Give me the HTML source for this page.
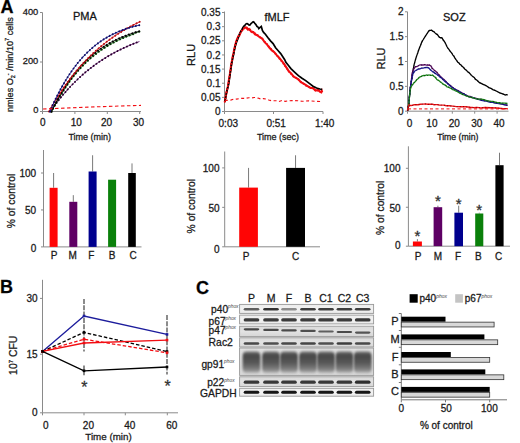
<!DOCTYPE html>
<html><head><meta charset="utf-8"><style>
html,body{margin:0;padding:0;background:#fff;}
svg{display:block;font-family:"Liberation Sans", sans-serif;}
text{stroke:#1a1a1a;stroke-width:0.28px;}
</style></head><body>
<svg width="520" height="443" viewBox="0 0 520 443">
<rect width="520" height="443" fill="#fff"/>
<text x="0.6" y="12.8" font-size="18" text-anchor="start" font-weight="bold" fill="#000" >A</text>
<text x="0" y="293.2" font-size="18" text-anchor="start" font-weight="bold" fill="#000" >B</text>
<text x="196" y="293.5" font-size="18" text-anchor="start" font-weight="bold" fill="#000" >C</text>
<line x1="42.5" y1="12.5" x2="42.5" y2="111.5" stroke="#8a8a8a" stroke-width="1" />
<line x1="42.5" y1="111.5" x2="141" y2="111.5" stroke="#8a8a8a" stroke-width="1" />
<line x1="40.0" y1="12.5" x2="42.5" y2="12.5" stroke="#8a8a8a" stroke-width="1" />
<line x1="40.0" y1="62" x2="42.5" y2="62" stroke="#8a8a8a" stroke-width="1" />
<line x1="40.0" y1="111.5" x2="42.5" y2="111.5" stroke="#8a8a8a" stroke-width="1" />
<line x1="42.5" y1="111.5" x2="42.5" y2="114.0" stroke="#8a8a8a" stroke-width="1" />
<line x1="74.9" y1="111.5" x2="74.9" y2="114.0" stroke="#8a8a8a" stroke-width="1" />
<line x1="107.3" y1="111.5" x2="107.3" y2="114.0" stroke="#8a8a8a" stroke-width="1" />
<line x1="139.7" y1="111.5" x2="139.7" y2="114.0" stroke="#8a8a8a" stroke-width="1" />
<text x="38.3" y="14.8" font-size="9.3" text-anchor="end" font-weight="normal" fill="#1a1a1a" >400</text>
<text x="38.3" y="64.3" font-size="9.3" text-anchor="end" font-weight="normal" fill="#1a1a1a" >200</text>
<text x="38.3" y="113.4" font-size="9.3" text-anchor="end" font-weight="normal" fill="#1a1a1a" >0</text>
<text x="42.7" y="126.2" font-size="10" text-anchor="middle" font-weight="normal" fill="#1a1a1a" >0</text>
<text x="76.2" y="126.2" font-size="10" text-anchor="middle" font-weight="normal" fill="#1a1a1a" >10</text>
<text x="106.5" y="126.2" font-size="10" text-anchor="middle" font-weight="normal" fill="#1a1a1a" >20</text>
<text x="138.5" y="126.2" font-size="10" text-anchor="middle" font-weight="normal" fill="#1a1a1a" >30</text>
<text x="89.8" y="140.2" font-size="9" text-anchor="middle" font-weight="normal" fill="#1a1a1a" >Time (min)</text>
<text x="84.8" y="20.3" font-size="11" text-anchor="middle" font-weight="normal" fill="#111" >PMA</text>
<text transform="translate(13.2,64.6) rotate(-90)" font-size="9.1" text-anchor="middle" fill="#1a1a1a">nmles O<tspan font-size="5.5" dy="2">2</tspan><tspan font-size="5.5" dy="-5">-</tspan><tspan dy="3"> /min/10</tspan><tspan font-size="5.5" dy="-4">7</tspan><tspan dy="4"> cells</tspan></text>
<polyline points="50.4,111.5 51.4,110.1 52.4,108.6 53.4,107.3 54.4,105.9 55.4,104.5 56.4,103.2 57.4,101.9 58.4,100.6 59.4,99.3 60.4,98.1 61.4,96.8 62.4,95.6 63.4,94.4 64.4,93.3 65.4,92.1 66.4,91.0 67.4,89.8 68.4,88.7 69.4,87.6 70.4,86.6 71.4,85.5 72.4,84.5 73.4,83.5 74.4,82.5 75.4,81.5 76.4,80.5 77.4,79.5 78.4,78.6 79.4,77.6 80.4,76.7 81.4,75.8 82.4,74.9 83.4,74.1 84.4,73.2 85.4,72.3 86.4,71.5 87.4,70.7 88.4,69.9 89.4,69.1 90.4,68.3 91.4,67.5 92.4,66.8 93.4,66.0 94.4,65.3 95.4,64.5 96.4,63.8 97.4,63.1 98.4,62.4 99.4,61.7 100.4,61.1 101.4,60.4 102.4,59.8 103.4,59.1 104.4,58.5 105.4,57.9 106.4,57.2 107.4,56.6 108.4,56.0 109.4,55.5 110.4,54.9 111.4,54.3 112.4,53.8 113.4,53.2 114.4,52.7 115.4,52.1 116.4,51.6 117.4,51.1 118.4,50.6 119.4,50.1 120.4,49.6 121.4,49.1 122.4,48.6 123.4,48.1 124.4,47.7 125.4,47.2 126.4,46.8 127.4,46.3 128.4,45.9 129.4,45.5 130.4,45.0 131.4,44.6 132.4,44.2 133.4,43.8 134.4,43.4 135.4,43.0 136.4,42.6 137.4,42.3 138.4,41.9 139.4,41.5" fill="none" stroke="#5c0a66" stroke-width="1.0"/>
<polyline points="50.4,111.5 51.4,110.1 52.4,108.6 53.4,107.3 54.4,105.9 55.4,104.5 56.4,103.2 57.4,101.9 58.4,100.6 59.4,99.3 60.4,98.1 61.4,96.8 62.4,95.6 63.4,94.4 64.4,93.3 65.4,92.1 66.4,91.0 67.4,89.8 68.4,88.7 69.4,87.6 70.4,86.6 71.4,85.5 72.4,84.5 73.4,83.5 74.4,82.5 75.4,81.5 76.4,80.5 77.4,79.5 78.4,78.6 79.4,77.6 80.4,76.7 81.4,75.8 82.4,74.9 83.4,74.1 84.4,73.2 85.4,72.3 86.4,71.5 87.4,70.7 88.4,69.9 89.4,69.1 90.4,68.3 91.4,67.5 92.4,66.8 93.4,66.0 94.4,65.3 95.4,64.5 96.4,63.8 97.4,63.1 98.4,62.4 99.4,61.7 100.4,61.1 101.4,60.4 102.4,59.8 103.4,59.1 104.4,58.5 105.4,57.9 106.4,57.2 107.4,56.6 108.4,56.0 109.4,55.5 110.4,54.9 111.4,54.3 112.4,53.8 113.4,53.2 114.4,52.7 115.4,52.1 116.4,51.6 117.4,51.1 118.4,50.6 119.4,50.1 120.4,49.6 121.4,49.1 122.4,48.6 123.4,48.1 124.4,47.7 125.4,47.2 126.4,46.8 127.4,46.3 128.4,45.9 129.4,45.5 130.4,45.0 131.4,44.6 132.4,44.2 133.4,43.8 134.4,43.4 135.4,43.0 136.4,42.6 137.4,42.3 138.4,41.9 139.4,41.5" fill="none" stroke="#2a0030" stroke-width="2.0" stroke-linecap="round" stroke-dasharray="0.01 3.5"/>
<polyline points="51.5,111.8 52.5,109.8 53.5,107.8 54.5,105.8 55.5,103.9 56.5,102.0 57.5,100.2 58.5,98.4 59.5,96.7 60.5,95.6 61.5,93.9 62.5,92.3 63.5,90.7 64.5,89.1 65.5,87.6 66.5,86.1 67.5,84.6 68.5,83.2 69.5,81.8 70.5,80.4 71.5,79.0 72.5,77.7 73.5,76.4 74.5,75.2 75.5,74.0 76.5,72.7 77.5,71.6 78.5,70.4 79.5,69.3 80.5,68.2 81.5,67.1 82.5,66.1 83.5,65.0 84.5,64.0 85.5,63.0 86.5,62.1 87.5,61.1 88.5,60.2 89.5,59.3 90.5,58.4 91.5,57.5 92.5,56.7 93.5,55.9 94.5,55.1 95.5,54.3 96.5,53.5 97.5,52.7 98.5,52.0 99.5,51.3 100.5,50.6 101.5,49.9 102.5,49.2 103.5,48.5 104.5,47.9 105.5,47.2 106.5,46.6 107.5,46.0 108.5,45.4 109.5,44.8 110.5,44.2 111.5,43.7 112.5,43.1 113.5,42.6 114.5,42.1 115.5,41.6 116.5,41.1 117.5,40.6 118.5,40.1 119.5,39.6 120.5,39.2 121.5,38.7 122.5,38.3 123.5,37.9 124.5,37.5 125.5,37.0 126.5,36.6 127.5,36.3 128.5,35.9 129.5,35.5 130.5,35.1 131.5,34.8 132.5,34.4 133.5,34.1 134.5,33.7 135.5,32.8 136.5,32.5 137.5,32.2 138.5,31.9 139.5,31.6" fill="none" stroke="#1a8a1a" stroke-width="1.0"/>
<polyline points="51.5,111.8 52.5,109.8 53.5,107.8 54.5,105.8 55.5,103.9 56.5,102.0 57.5,100.2 58.5,98.4 59.5,96.7 60.5,95.6 61.5,93.9 62.5,92.3 63.5,90.7 64.5,89.1 65.5,87.6 66.5,86.1 67.5,84.6 68.5,83.2 69.5,81.8 70.5,80.4 71.5,79.0 72.5,77.7 73.5,76.4 74.5,75.2 75.5,74.0 76.5,72.7 77.5,71.6 78.5,70.4 79.5,69.3 80.5,68.2 81.5,67.1 82.5,66.1 83.5,65.0 84.5,64.0 85.5,63.0 86.5,62.1 87.5,61.1 88.5,60.2 89.5,59.3 90.5,58.4 91.5,57.5 92.5,56.7 93.5,55.9 94.5,55.1 95.5,54.3 96.5,53.5 97.5,52.7 98.5,52.0 99.5,51.3 100.5,50.6 101.5,49.9 102.5,49.2 103.5,48.5 104.5,47.9 105.5,47.2 106.5,46.6 107.5,46.0 108.5,45.4 109.5,44.8 110.5,44.2 111.5,43.7 112.5,43.1 113.5,42.6 114.5,42.1 115.5,41.6 116.5,41.1 117.5,40.6 118.5,40.1 119.5,39.6 120.5,39.2 121.5,38.7 122.5,38.3 123.5,37.9 124.5,37.5 125.5,37.0 126.5,36.6 127.5,36.3 128.5,35.9 129.5,35.5 130.5,35.1 131.5,34.8 132.5,34.4 133.5,34.1 134.5,33.7 135.5,32.8 136.5,32.5 137.5,32.2 138.5,31.9 139.5,31.6" fill="none" stroke="#0a300a" stroke-width="2.0" stroke-linecap="round" stroke-dasharray="0.01 3.5"/>
<polyline points="51.5,111.5 52.5,109.4 53.5,107.4 54.5,105.4 55.5,103.5 56.5,101.6 57.5,99.7 58.5,97.9 59.5,96.1 60.5,94.4 61.5,92.7 62.5,91.0 63.5,89.4 64.5,87.8 65.5,86.3 66.5,84.7 67.5,83.3 68.5,81.8 69.5,80.4 70.5,79.0 71.5,77.6 72.5,76.3 73.5,75.0 74.5,73.7 75.5,72.5 76.5,71.2 77.5,70.0 78.5,68.9 79.5,67.7 80.5,66.6 81.5,65.5 82.5,64.4 83.5,63.4 84.5,62.4 85.5,61.4 86.5,60.4 87.5,59.5 88.5,58.5 89.5,57.6 90.5,56.7 91.5,55.9 92.5,55.0 93.5,54.2 94.5,53.4 95.5,52.6 96.5,51.8 97.5,51.0 98.5,50.3 99.5,49.6 100.5,48.9 101.5,48.2 102.5,47.5 103.5,46.8 104.5,46.2 105.5,45.6 106.5,45.0 107.5,44.4 108.5,43.8 109.5,43.2 110.5,42.6 111.5,42.1 112.5,41.6 113.5,41.1 114.5,40.5 115.5,40.1 116.5,39.6 117.5,39.1 118.5,38.6 119.5,38.2 120.5,37.8 121.5,37.3 122.5,36.9 123.5,36.5 124.5,36.1 125.5,35.7 126.5,35.4 127.5,35.0 128.5,34.6 129.5,34.3 130.5,33.9 131.5,33.6 132.5,33.3 133.5,33.0 134.5,32.7 135.5,32.3 136.5,32.1 137.5,31.8 138.5,31.5 139.5,31.2" fill="none" stroke="#000" stroke-width="1.0"/>
<polyline points="51.5,111.5 52.5,109.4 53.5,107.4 54.5,105.4 55.5,103.5 56.5,101.6 57.5,99.7 58.5,97.9 59.5,96.1 60.5,94.4 61.5,92.7 62.5,91.0 63.5,89.4 64.5,87.8 65.5,86.3 66.5,84.7 67.5,83.3 68.5,81.8 69.5,80.4 70.5,79.0 71.5,77.6 72.5,76.3 73.5,75.0 74.5,73.7 75.5,72.5 76.5,71.2 77.5,70.0 78.5,68.9 79.5,67.7 80.5,66.6 81.5,65.5 82.5,64.4 83.5,63.4 84.5,62.4 85.5,61.4 86.5,60.4 87.5,59.5 88.5,58.5 89.5,57.6 90.5,56.7 91.5,55.9 92.5,55.0 93.5,54.2 94.5,53.4 95.5,52.6 96.5,51.8 97.5,51.0 98.5,50.3 99.5,49.6 100.5,48.9 101.5,48.2 102.5,47.5 103.5,46.8 104.5,46.2 105.5,45.6 106.5,45.0 107.5,44.4 108.5,43.8 109.5,43.2 110.5,42.6 111.5,42.1 112.5,41.6 113.5,41.1 114.5,40.5 115.5,40.1 116.5,39.6 117.5,39.1 118.5,38.6 119.5,38.2 120.5,37.8 121.5,37.3 122.5,36.9 123.5,36.5 124.5,36.1 125.5,35.7 126.5,35.4 127.5,35.0 128.5,34.6 129.5,34.3 130.5,33.9 131.5,33.6 132.5,33.3 133.5,33.0 134.5,32.7 135.5,32.3 136.5,32.1 137.5,31.8 138.5,31.5 139.5,31.2" fill="none" stroke="#000" stroke-width="2.0" stroke-linecap="round" stroke-dasharray="0.01 3.5"/>
<polyline points="48.9,111.5 49.9,109.7 50.9,108.0 51.9,106.2 52.9,104.5 53.9,102.9 54.9,101.2 55.9,99.6 56.9,98.0 57.9,96.4 58.9,94.8 59.9,93.3 60.9,91.8 61.9,90.3 62.9,88.8 63.9,87.4 64.9,86.0 65.9,84.5 66.9,83.2 67.9,81.8 68.9,80.5 69.9,79.1 70.9,77.8 71.9,76.5 72.9,75.3 73.9,74.0 74.9,72.8 75.9,71.6 76.9,70.4 77.9,69.2 78.9,68.0 79.9,66.9 80.9,65.8 81.9,64.7 82.9,63.6 83.9,62.5 84.9,61.4 85.9,60.4 86.9,59.4 87.9,58.3 88.9,57.3 89.9,56.4 90.9,55.4 91.9,54.4 92.9,53.5 93.9,52.6 94.9,51.6 95.9,50.7 96.9,49.8 97.9,49.0 98.9,48.1 99.9,47.3 100.9,46.4 101.9,45.6 102.9,44.8 103.9,44.0 104.9,43.2 105.9,42.4 106.9,41.6 107.9,40.9 108.9,40.1 109.9,39.4 110.9,38.7 111.9,38.0 112.9,37.3 113.9,36.6 114.9,35.9 115.9,35.2 116.9,34.6 117.9,33.9 118.9,33.3 119.9,32.6 120.9,32.0 121.9,31.4 122.9,30.8 123.9,30.2 124.9,29.6 125.9,29.0 126.9,28.4 127.9,27.9 128.9,27.3 129.9,26.8 130.9,26.2 131.9,25.7 132.9,25.2 133.9,24.7 134.9,24.2 135.9,23.7 136.9,23.2 137.9,22.7 138.9,22.2 139.9,21.7" fill="none" stroke="#f20d12" stroke-width="1.0"/>
<polyline points="48.9,111.5 49.9,109.7 50.9,108.0 51.9,106.2 52.9,104.5 53.9,102.9 54.9,101.2 55.9,99.6 56.9,98.0 57.9,96.4 58.9,94.8 59.9,93.3 60.9,91.8 61.9,90.3 62.9,88.8 63.9,87.4 64.9,86.0 65.9,84.5 66.9,83.2 67.9,81.8 68.9,80.5 69.9,79.1 70.9,77.8 71.9,76.5 72.9,75.3 73.9,74.0 74.9,72.8 75.9,71.6 76.9,70.4 77.9,69.2 78.9,68.0 79.9,66.9 80.9,65.8 81.9,64.7 82.9,63.6 83.9,62.5 84.9,61.4 85.9,60.4 86.9,59.4 87.9,58.3 88.9,57.3 89.9,56.4 90.9,55.4 91.9,54.4 92.9,53.5 93.9,52.6 94.9,51.6 95.9,50.7 96.9,49.8 97.9,49.0 98.9,48.1 99.9,47.3 100.9,46.4 101.9,45.6 102.9,44.8 103.9,44.0 104.9,43.2 105.9,42.4 106.9,41.6 107.9,40.9 108.9,40.1 109.9,39.4 110.9,38.7 111.9,38.0 112.9,37.3 113.9,36.6 114.9,35.9 115.9,35.2 116.9,34.6 117.9,33.9 118.9,33.3 119.9,32.6 120.9,32.0 121.9,31.4 122.9,30.8 123.9,30.2 124.9,29.6 125.9,29.0 126.9,28.4 127.9,27.9 128.9,27.3 129.9,26.8 130.9,26.2 131.9,25.7 132.9,25.2 133.9,24.7 134.9,24.2 135.9,23.7 136.9,23.2 137.9,22.7 138.9,22.2 139.9,21.7" fill="none" stroke="#b01018" stroke-width="2.0" stroke-linecap="round" stroke-dasharray="0.01 3.5"/>
<polyline points="49.9,111.5 50.9,109.2 51.9,106.9 52.9,104.7 53.9,102.5 54.9,100.4 55.9,98.3 56.9,96.3 57.9,94.3 58.9,92.4 59.9,90.5 60.9,88.6 61.9,86.8 62.9,85.0 63.9,83.3 64.9,81.6 65.9,79.9 66.9,78.3 67.9,76.8 68.9,75.2 69.9,73.7 70.9,72.2 71.9,70.8 72.9,69.4 73.9,68.0 74.9,66.7 75.9,65.4 76.9,64.1 77.9,62.8 78.9,61.6 79.9,60.4 80.9,59.3 81.9,58.1 82.9,57.0 83.9,56.0 84.9,54.9 85.9,53.9 86.9,52.9 87.9,51.9 88.9,50.9 89.9,50.0 90.9,49.1 91.9,48.2 92.9,47.4 93.9,46.5 94.9,45.7 95.9,44.9 96.9,44.1 97.9,43.4 98.9,42.6 99.9,41.9 100.9,41.2 101.9,40.5 102.9,39.9 103.9,39.2 104.9,38.6 105.9,38.0 106.9,37.4 107.9,36.8 108.9,36.3 109.9,35.7 110.9,35.2 111.9,34.7 112.9,34.2 113.9,33.7 114.9,33.2 115.9,32.8 116.9,32.3 117.9,31.9 118.9,31.5 119.9,31.1 120.9,30.7 121.9,30.3 122.9,29.9 123.9,29.5 124.9,29.2 125.9,28.8 126.9,28.5 127.9,28.2 128.9,27.9 129.9,27.6 130.9,27.3 131.9,27.0 132.9,26.7 133.9,26.5 134.9,26.2 135.9,26.0 136.9,25.7 137.9,25.5 138.9,25.3 139.9,25.1" fill="none" stroke="#1c1c9c" stroke-width="1.0"/>
<polyline points="49.9,111.5 50.9,109.2 51.9,106.9 52.9,104.7 53.9,102.5 54.9,100.4 55.9,98.3 56.9,96.3 57.9,94.3 58.9,92.4 59.9,90.5 60.9,88.6 61.9,86.8 62.9,85.0 63.9,83.3 64.9,81.6 65.9,79.9 66.9,78.3 67.9,76.8 68.9,75.2 69.9,73.7 70.9,72.2 71.9,70.8 72.9,69.4 73.9,68.0 74.9,66.7 75.9,65.4 76.9,64.1 77.9,62.8 78.9,61.6 79.9,60.4 80.9,59.3 81.9,58.1 82.9,57.0 83.9,56.0 84.9,54.9 85.9,53.9 86.9,52.9 87.9,51.9 88.9,50.9 89.9,50.0 90.9,49.1 91.9,48.2 92.9,47.4 93.9,46.5 94.9,45.7 95.9,44.9 96.9,44.1 97.9,43.4 98.9,42.6 99.9,41.9 100.9,41.2 101.9,40.5 102.9,39.9 103.9,39.2 104.9,38.6 105.9,38.0 106.9,37.4 107.9,36.8 108.9,36.3 109.9,35.7 110.9,35.2 111.9,34.7 112.9,34.2 113.9,33.7 114.9,33.2 115.9,32.8 116.9,32.3 117.9,31.9 118.9,31.5 119.9,31.1 120.9,30.7 121.9,30.3 122.9,29.9 123.9,29.5 124.9,29.2 125.9,28.8 126.9,28.5 127.9,28.2 128.9,27.9 129.9,27.6 130.9,27.3 131.9,27.0 132.9,26.7 133.9,26.5 134.9,26.2 135.9,26.0 136.9,25.7 137.9,25.5 138.9,25.3 139.9,25.1" fill="none" stroke="#101060" stroke-width="2.0" stroke-linecap="round" stroke-dasharray="0.01 3.5"/>
<polyline points="43,109 70,107.9 100,106.7 120,106 141,105.4" fill="none" stroke="#f20d12" stroke-width="1.1" stroke-dasharray="3.5 2.5"/>
<line x1="224.5" y1="11.5" x2="224.5" y2="111.5" stroke="#8a8a8a" stroke-width="1" />
<line x1="224.5" y1="111.5" x2="323" y2="111.5" stroke="#8a8a8a" stroke-width="1" />
<line x1="222.0" y1="111.5" x2="224.5" y2="111.5" stroke="#8a8a8a" stroke-width="1" />
<text x="220.5" y="115.1" font-size="10" text-anchor="end" font-weight="normal" fill="#1a1a1a" >0</text>
<line x1="222.0" y1="97.36" x2="224.5" y2="97.36" stroke="#8a8a8a" stroke-width="1" />
<text x="220.5" y="100.96" font-size="10" text-anchor="end" font-weight="normal" fill="#1a1a1a" >0.05</text>
<line x1="222.0" y1="83.22" x2="224.5" y2="83.22" stroke="#8a8a8a" stroke-width="1" />
<text x="220.5" y="86.82" font-size="10" text-anchor="end" font-weight="normal" fill="#1a1a1a" >0.1</text>
<line x1="222.0" y1="69.08" x2="224.5" y2="69.08" stroke="#8a8a8a" stroke-width="1" />
<text x="220.5" y="72.67999999999999" font-size="10" text-anchor="end" font-weight="normal" fill="#1a1a1a" >0.15</text>
<line x1="222.0" y1="54.94" x2="224.5" y2="54.94" stroke="#8a8a8a" stroke-width="1" />
<text x="220.5" y="58.54" font-size="10" text-anchor="end" font-weight="normal" fill="#1a1a1a" >0.2</text>
<line x1="222.0" y1="40.8" x2="224.5" y2="40.8" stroke="#8a8a8a" stroke-width="1" />
<text x="220.5" y="44.4" font-size="10" text-anchor="end" font-weight="normal" fill="#1a1a1a" >0.25</text>
<line x1="222.0" y1="26.659999999999997" x2="224.5" y2="26.659999999999997" stroke="#8a8a8a" stroke-width="1" />
<text x="220.5" y="30.259999999999998" font-size="10" text-anchor="end" font-weight="normal" fill="#1a1a1a" >0.3</text>
<line x1="222.0" y1="12.519999999999996" x2="224.5" y2="12.519999999999996" stroke="#8a8a8a" stroke-width="1" />
<text x="220.5" y="16.119999999999997" font-size="10" text-anchor="end" font-weight="normal" fill="#1a1a1a" >0.35</text>
<line x1="224.5" y1="111.5" x2="224.5" y2="114.0" stroke="#8a8a8a" stroke-width="1" />
<line x1="273.5" y1="111.5" x2="273.5" y2="114.0" stroke="#8a8a8a" stroke-width="1" />
<line x1="323" y1="111.5" x2="323" y2="114.0" stroke="#8a8a8a" stroke-width="1" />
<text x="228.3" y="126.5" font-size="10" text-anchor="middle" font-weight="normal" fill="#1a1a1a" >0:03</text>
<text x="276.2" y="126.5" font-size="10" text-anchor="middle" font-weight="normal" fill="#1a1a1a" >0:51</text>
<text x="324.7" y="126.5" font-size="10" text-anchor="middle" font-weight="normal" fill="#1a1a1a" >1:40</text>
<text x="278" y="140.1" font-size="9" text-anchor="middle" font-weight="normal" fill="#1a1a1a" >Time (sec)</text>
<text x="277" y="21" font-size="11" text-anchor="middle" font-weight="normal" fill="#111" >fMLF</text>
<text x="0" y="0" font-size="11" text-anchor="middle" font-weight="normal" fill="#1a1a1a" transform="translate(194.6,54.9) rotate(-90)">RLU</text>
<polyline points="224.8,101.9 225.2,99.6 225.8,96.1 226.5,92.7 227.2,89.4 227.9,86.7 228.7,81.2 229.6,75.9 230.6,69.7 231.5,63.2 232.2,59.8 232.9,55.7 233.5,53.5 234.1,50.0 234.7,47.5 235.4,44.6 236.3,41.0 237.3,38.7 238.3,36.4 239.3,35.5 240.2,33.5 241.2,31.0 242.2,30.5 243.3,28.2 244.4,28.2 245.6,27.4 246.8,27.6 248.0,29.6 249.0,29.0 249.9,29.6 251.0,31.6 252.1,32.2 253.4,32.1 255.0,34.3 257.2,35.2 259.7,37.2 262.2,38.5 264.6,42.2 267.1,44.6 269.5,47.8 271.9,50.4 274.3,52.2 276.7,55.1 279.1,57.7 281.5,60.6 283.9,63.6 286.3,67.4 288.8,71.4 291.2,73.4 293.6,76.6 296.0,77.8 298.4,79.4 300.8,82.1 303.2,83.4 305.6,84.8 308.0,86.4 310.5,88.0 312.9,88.0 315.5,90.5 318.1,89.9 320.1,91.8 321.3,92.3 321.8,91.0 322.2,92.3" fill="none" stroke="#f20d12" stroke-width="2.1"/>
<polyline points="224.8,102.2 225.5,98.4 226.5,92.6 227.5,88.5 228.7,83.8 230.1,74.1 231.5,64.4 232.6,58.6 233.5,54.7 234.4,50.0 235.4,45.6 236.9,41.1 238.3,37.7 239.2,34.8 240.0,32.8 241.0,31.1 242.0,29.4 243.0,27.5 244.0,26.1 244.8,25.3 245.5,24.5 246.3,23.7 247.1,23.6 248.1,24.2 249.1,25.1 250.0,24.9 251.0,23.5 252.1,22.7 253.2,21.8 254.0,22.1 254.7,23.3 255.5,24.0 256.3,25.2 256.9,26.3 257.5,26.7 258.1,27.2 258.8,28.6 260.1,27.4 261.3,26.4 261.8,28.2 262.4,30.5 263.6,32.4 265.4,34.2 267.8,37.6 270.5,40.9 273.1,43.6 275.6,47.8 278.2,50.8 280.7,53.6 282.8,56.8 284.7,59.7 285.9,62.3 287.5,64.3 290.9,68.6 294.8,72.3 298.4,75.7 302.0,78.3 305.7,80.6 309.3,83.4 313.0,86.2 316.5,88.0 319.8,89.0 322.2,89.3" fill="none" stroke="#000" stroke-width="1.7" stroke-linejoin="miter"/>
<polyline points="224.8,101.8 225.1,100.1 225.5,97.7 226.0,94.9 226.5,92.1 227.0,90.0 227.5,87.3 228.1,85.1 228.7,82.3 229.4,77.7 230.1,72.7 230.8,67.1 231.5,63.0 232.1,59.8 232.6,57.7 233.0,55.7 233.5,53.2 234.0,51.0 234.4,48.8 234.9,46.9 235.4,44.7 236.1,42.2 236.8,40.6 237.6,38.3 238.3,36.9 239.0,35.0 239.7,33.6 240.5,32.9 241.2,31.3 242.0,30.2 242.8,29.6 243.6,28.7 244.4,27.9 245.3,28.2 246.2,28.2 247.1,28.7 248.0,28.8 248.8,29.6 249.5,29.9 250.2,30.5 251.0,31.0 251.9,31.2 252.7,31.9 253.8,32.5 255.0,33.4 256.6,34.4 258.4,35.8 260.3,37.5 262.2,38.7 264.0,40.9 265.9,42.8 267.7,44.9 269.5,47.3 271.3,49.1 273.1,51.0 274.9,53.2 276.7,55.4 278.5,57.2 280.3,60.0 282.1,61.7 283.9,64.4 285.7,67.0 287.6,69.2 289.4,72.2 291.2,74.1 293.0,75.9 294.8,76.9 296.6,78.2 298.4,79.5 300.2,81.4 302.0,82.3 303.8,84.0 305.6,85.4 307.4,86.4 309.2,87.0 311.1,87.8 312.9,88.7 314.8,89.7 316.8,90.0 318.7,91.1 320.1,91.6 321.0,91.9 321.6,91.5 321.9,92.0 322.2,91.6" fill="none" stroke="#f20d12" stroke-width="1.9" stroke-linecap="round" stroke-dasharray="0.01 3.2"/>
<polyline points="225.0,100.8 227.4,100.2 230.7,100.1 234.0,99.0 236.7,99.1 239.2,98.7 242.0,98.2 245.3,98.4 248.9,97.7 252.0,97.9 254.2,97.5 256.0,97.6 258.0,98.1 260.5,98.9 263.3,98.6 266.0,99.1 268.7,100.0 271.3,100.7 274.0,100.7 276.6,100.7 279.2,101.4 282.0,100.5 285.2,101.4 288.6,100.8 292.0,100.6 295.0,100.6 297.9,100.8 302.0,101.3 308.7,100.8 316.4,101.4 322.0,101.5" fill="none" stroke="#f20d12" stroke-width="1.1" stroke-dasharray="3 2.5"/>
<line x1="407.5" y1="11.8" x2="407.5" y2="111.2" stroke="#8a8a8a" stroke-width="1" />
<line x1="407.5" y1="111.2" x2="508.5" y2="111.2" stroke="#8a8a8a" stroke-width="1" />
<line x1="405.0" y1="111.2" x2="407.5" y2="111.2" stroke="#8a8a8a" stroke-width="1" />
<text x="403.5" y="114.8" font-size="10" text-anchor="end" font-weight="normal" fill="#1a1a1a" >0</text>
<line x1="405.0" y1="86.35" x2="407.5" y2="86.35" stroke="#8a8a8a" stroke-width="1" />
<text x="403.5" y="89.94999999999999" font-size="10" text-anchor="end" font-weight="normal" fill="#1a1a1a" >0.5</text>
<line x1="405.0" y1="61.5" x2="407.5" y2="61.5" stroke="#8a8a8a" stroke-width="1" />
<text x="403.5" y="65.1" font-size="10" text-anchor="end" font-weight="normal" fill="#1a1a1a" >1</text>
<line x1="405.0" y1="36.64999999999999" x2="407.5" y2="36.64999999999999" stroke="#8a8a8a" stroke-width="1" />
<text x="403.5" y="40.24999999999999" font-size="10" text-anchor="end" font-weight="normal" fill="#1a1a1a" >1.5</text>
<line x1="405.0" y1="11.799999999999997" x2="407.5" y2="11.799999999999997" stroke="#8a8a8a" stroke-width="1" />
<text x="403.5" y="15.399999999999997" font-size="10" text-anchor="end" font-weight="normal" fill="#1a1a1a" >2</text>
<line x1="407.5" y1="111.2" x2="407.5" y2="113.7" stroke="#8a8a8a" stroke-width="1" />
<line x1="429.9" y1="111.2" x2="429.9" y2="113.7" stroke="#8a8a8a" stroke-width="1" />
<line x1="452.3" y1="111.2" x2="452.3" y2="113.7" stroke="#8a8a8a" stroke-width="1" />
<line x1="474.7" y1="111.2" x2="474.7" y2="113.7" stroke="#8a8a8a" stroke-width="1" />
<line x1="497.1" y1="111.2" x2="497.1" y2="113.7" stroke="#8a8a8a" stroke-width="1" />
<text x="409.5" y="126.8" font-size="10" text-anchor="middle" font-weight="normal" fill="#1a1a1a" >0</text>
<text x="431.9" y="126.8" font-size="10" text-anchor="middle" font-weight="normal" fill="#1a1a1a" >10</text>
<text x="454.3" y="126.8" font-size="10" text-anchor="middle" font-weight="normal" fill="#1a1a1a" >20</text>
<text x="476.7" y="126.8" font-size="10" text-anchor="middle" font-weight="normal" fill="#1a1a1a" >30</text>
<text x="499.1" y="126.8" font-size="10" text-anchor="middle" font-weight="normal" fill="#1a1a1a" >40</text>
<text x="457.8" y="139.6" font-size="8.7" text-anchor="middle" font-weight="normal" fill="#1a1a1a" >Time (min)</text>
<text x="454.3" y="20.8" font-size="11" text-anchor="middle" font-weight="normal" fill="#111" >SOZ</text>
<text x="0" y="0" font-size="11" text-anchor="middle" font-weight="normal" fill="#1a1a1a" transform="translate(384.6,58.5) rotate(-90)">RLU</text>
<polyline points="407.5,110.5 407.6,110.2 407.8,110.0 407.9,109.2 408.1,108.5 408.2,107.9 408.4,107.0 408.5,106.3 408.7,104.7 409.0,102.1 409.3,98.1 409.6,94.7 409.9,91.4 410.2,89.6 410.4,87.7 410.7,85.4 411.0,83.8 411.4,81.0 411.9,77.6 412.4,74.4 412.9,71.3 413.3,68.8 413.7,67.1 414.1,64.7 414.6,62.8 415.2,60.6 415.9,58.3 416.5,56.4 417.2,54.4 417.8,52.8 418.4,50.8 419.0,49.2 419.7,47.3 420.5,45.4 421.4,43.1 422.4,40.9 423.3,39.5 424.2,38.0 425.1,36.6 425.9,35.4 426.8,34.0 427.7,32.7 428.5,31.5 429.4,30.3 430.4,30.3 431.5,30.1 432.6,31.1 433.8,31.6 435.0,32.9 436.2,33.9 437.4,34.6 438.5,36.1 439.5,37.5 440.3,37.6 440.8,38.0 441.4,37.7 442.0,37.9 442.7,39.1 443.4,40.3 444.2,41.2 445.0,42.5 445.9,44.3 446.9,46.5 447.9,48.2 448.9,49.4 449.9,50.9 450.9,52.1 451.9,53.3 452.9,55.1 453.9,56.1 454.8,57.9 455.8,59.4 456.8,60.6 457.8,62.2 458.8,62.8 459.8,64.2 460.8,64.8 461.8,66.0 462.7,66.7 463.7,67.6 464.7,69.0 465.7,69.8 466.6,70.4 467.6,71.8 468.7,72.4 470.0,73.7 471.4,75.4 472.8,76.6 474.2,77.5 475.5,79.4 476.7,80.0 478.0,81.2 479.5,82.7 481.2,83.4 483.1,84.4 485.0,85.2 487.0,86.2 488.9,87.6 490.9,88.3 492.8,89.6 494.9,90.4 497.2,91.5 499.7,92.9 502.0,93.6 503.9,94.4 505.3,95.0 506.3,94.7 507.0,94.7 507.5,95.3" fill="none" stroke="#000" stroke-width="1.3"/>
<polyline points="407.5,110.5 407.6,110.2 407.8,110.0 407.9,109.2 408.1,108.5 408.2,107.9 408.4,107.0 408.5,106.3 408.7,104.7 409.0,102.1 409.3,98.1 409.6,94.7 409.9,91.4 410.2,89.6 410.4,87.7 410.7,85.4 411.0,83.8 411.4,81.0 411.9,77.6 412.4,74.4 412.9,71.3 413.3,68.8 413.7,67.1 414.1,64.7 414.6,62.8 415.2,60.6 415.9,58.3 416.5,56.4 417.2,54.4 417.8,52.8 418.4,50.8 419.0,49.2 419.7,47.3 420.5,45.4 421.4,43.1 422.4,40.9 423.3,39.5 424.2,38.0 425.1,36.6 425.9,35.4 426.8,34.0 427.7,32.7 428.5,31.5 429.4,30.3 430.4,30.3 431.5,30.1 432.6,31.1 433.8,31.6 435.0,32.9 436.2,33.9 437.4,34.6 438.5,36.1 439.5,37.5 440.3,37.6 440.8,38.0 441.4,37.7 442.0,37.9 442.7,39.1 443.4,40.3 444.2,41.2 445.0,42.5 445.9,44.3 446.9,46.5 447.9,48.2 448.9,49.4 449.9,50.9 450.9,52.1 451.9,53.3 452.9,55.1 453.9,56.1 454.8,57.9 455.8,59.4 456.8,60.6 457.8,62.2 458.8,62.8 459.8,64.2 460.8,64.8 461.8,66.0 462.7,66.7 463.7,67.6 464.7,69.0 465.7,69.8 466.6,70.4 467.6,71.8 468.7,72.4 470.0,73.7 471.4,75.4 472.8,76.6 474.2,77.5 475.5,79.4 476.7,80.0 478.0,81.2 479.5,82.7 481.2,83.4 483.1,84.4 485.0,85.2 487.0,86.2 488.9,87.6 490.9,88.3 492.8,89.6 494.9,90.4 497.2,91.5 499.7,92.9 502.0,93.6 503.9,94.4 505.3,95.0 506.3,94.7 507.0,94.7 507.5,95.3" fill="none" stroke="#000" stroke-opacity="0.45" stroke-width="1.3" stroke-dasharray="1 2.2"/>
<polyline points="407.5,110.5 407.7,109.7 408.0,108.5 408.4,106.5 408.7,104.3 409.0,101.7 409.3,98.1 409.6,95.0 409.9,91.8 410.2,89.4 410.4,87.5 410.7,85.7 411.0,83.3 411.3,80.9 411.6,78.0 411.9,75.9 412.2,73.2 412.5,72.3 412.8,70.7 413.1,70.4 413.5,69.4 413.9,68.7 414.3,68.4 414.9,67.2 415.7,66.7 416.9,66.6 418.4,65.7 420.0,64.8 421.6,65.0 423.2,65.0 424.8,64.6 426.3,65.1 427.5,65.0 428.4,65.2 428.9,65.3 429.4,64.9 430.0,65.5 430.7,65.7 431.4,66.7 432.1,68.2 432.8,68.7 433.4,69.4 434.0,70.0 434.7,70.5 435.6,71.2 436.8,72.2 438.3,74.1 439.8,75.7 441.3,77.2 442.7,78.5 444.2,79.7 445.6,81.1 447.0,82.7 448.4,84.0 449.8,84.9 451.2,86.2 452.6,87.4 454.0,88.4 455.4,89.5 456.8,90.0 458.2,90.5 459.6,91.8 461.0,92.4 462.4,93.2 463.9,93.8 465.3,94.7 466.6,95.3 468.1,96.3 470.0,96.5 472.5,97.6 475.3,98.1 478.4,99.2 481.3,99.5 484.0,100.3 486.7,100.9 489.5,101.7 492.6,102.0 496.4,103.1 500.8,103.8 504.7,104.6 507.5,105.3" fill="none" stroke="#5c0a66" stroke-width="1.3"/>
<polyline points="407.5,110.5 407.7,109.7 408.0,108.5 408.4,106.5 408.7,104.3 409.0,101.7 409.3,98.1 409.6,95.0 409.9,91.8 410.2,89.4 410.4,87.5 410.7,85.7 411.0,83.3 411.3,80.9 411.6,78.0 411.9,75.9 412.2,73.2 412.5,72.3 412.8,70.7 413.1,70.4 413.5,69.4 413.9,68.7 414.3,68.4 414.9,67.2 415.7,66.7 416.9,66.6 418.4,65.7 420.0,64.8 421.6,65.0 423.2,65.0 424.8,64.6 426.3,65.1 427.5,65.0 428.4,65.2 428.9,65.3 429.4,64.9 430.0,65.5 430.7,65.7 431.4,66.7 432.1,68.2 432.8,68.7 433.4,69.4 434.0,70.0 434.7,70.5 435.6,71.2 436.8,72.2 438.3,74.1 439.8,75.7 441.3,77.2 442.7,78.5 444.2,79.7 445.6,81.1 447.0,82.7 448.4,84.0 449.8,84.9 451.2,86.2 452.6,87.4 454.0,88.4 455.4,89.5 456.8,90.0 458.2,90.5 459.6,91.8 461.0,92.4 462.4,93.2 463.9,93.8 465.3,94.7 466.6,95.3 468.1,96.3 470.0,96.5 472.5,97.6 475.3,98.1 478.4,99.2 481.3,99.5 484.0,100.3 486.7,100.9 489.5,101.7 492.6,102.0 496.4,103.1 500.8,103.8 504.7,104.6 507.5,105.3" fill="none" stroke="#000" stroke-opacity="0.45" stroke-width="1.3" stroke-dasharray="1 2.2"/>
<polyline points="407.5,110.3 407.7,109.7 408.0,108.5 408.4,107.0 408.7,104.4 409.0,101.6 409.3,98.0 409.6,94.6 409.9,91.9 410.2,89.1 410.4,87.4 410.7,85.3 411.0,83.4 411.4,81.1 411.9,78.9 412.4,76.4 412.8,74.2 413.1,73.2 413.4,72.6 413.7,72.7 414.0,72.2 414.3,71.7 414.6,71.3 415.0,70.8 415.7,70.5 416.9,69.9 418.4,69.0 420.0,68.9 421.6,68.2 423.2,68.1 424.8,67.7 426.3,67.5 427.5,67.5 428.3,67.8 428.9,68.1 429.3,68.4 430.0,69.5 431.0,70.3 432.1,71.3 433.1,71.9 434.0,72.5 434.5,73.0 434.7,72.7 435.0,73.3 435.6,73.6 436.7,74.2 438.2,75.4 439.8,76.9 441.3,77.9 442.7,79.3 444.2,80.7 445.6,81.9 447.0,82.9 448.4,84.5 449.8,85.5 451.2,86.7 452.6,87.8 454.0,88.8 455.4,89.3 456.8,90.4 458.2,91.3 459.6,91.7 461.0,92.8 462.4,93.7 463.9,93.9 465.3,94.7 466.6,95.8 468.1,96.5 470.0,97.1 472.5,97.5 475.3,98.5 478.4,99.5 481.3,100.3 484.0,100.9 486.7,101.1 489.5,102.1 492.6,102.4 496.4,103.3 500.8,103.7 504.7,104.9 507.5,105.1" fill="none" stroke="#1c1c9c" stroke-width="1.3"/>
<polyline points="407.5,110.3 407.7,109.7 408.0,108.5 408.4,107.0 408.7,104.4 409.0,101.6 409.3,98.0 409.6,94.6 409.9,91.9 410.2,89.1 410.4,87.4 410.7,85.3 411.0,83.4 411.4,81.1 411.9,78.9 412.4,76.4 412.8,74.2 413.1,73.2 413.4,72.6 413.7,72.7 414.0,72.2 414.3,71.7 414.6,71.3 415.0,70.8 415.7,70.5 416.9,69.9 418.4,69.0 420.0,68.9 421.6,68.2 423.2,68.1 424.8,67.7 426.3,67.5 427.5,67.5 428.3,67.8 428.9,68.1 429.3,68.4 430.0,69.5 431.0,70.3 432.1,71.3 433.1,71.9 434.0,72.5 434.5,73.0 434.7,72.7 435.0,73.3 435.6,73.6 436.7,74.2 438.2,75.4 439.8,76.9 441.3,77.9 442.7,79.3 444.2,80.7 445.6,81.9 447.0,82.9 448.4,84.5 449.8,85.5 451.2,86.7 452.6,87.8 454.0,88.8 455.4,89.3 456.8,90.4 458.2,91.3 459.6,91.7 461.0,92.8 462.4,93.7 463.9,93.9 465.3,94.7 466.6,95.8 468.1,96.5 470.0,97.1 472.5,97.5 475.3,98.5 478.4,99.5 481.3,100.3 484.0,100.9 486.7,101.1 489.5,102.1 492.6,102.4 496.4,103.3 500.8,103.7 504.7,104.9 507.5,105.1" fill="none" stroke="#000" stroke-opacity="0.45" stroke-width="1.3" stroke-dasharray="1 2.2"/>
<polyline points="407.5,110.2 407.7,109.7 408.0,108.4 408.4,106.9 408.7,104.4 409.0,101.8 409.3,98.9 409.6,95.7 409.9,92.9 410.1,91.3 410.3,89.8 410.5,89.0 410.8,87.5 411.1,86.7 411.4,86.5 411.8,85.5 412.2,84.8 412.7,84.6 413.2,83.9 413.8,82.9 414.6,82.3 415.6,81.3 416.7,79.7 418.0,78.8 419.3,77.3 420.7,76.7 422.2,75.9 423.7,75.5 425.1,75.6 426.4,75.0 427.7,75.4 428.9,75.0 430.0,75.2 431.0,75.4 431.8,75.4 432.6,75.1 433.4,75.9 434.2,76.6 435.0,77.1 435.9,78.0 436.8,79.5 437.8,80.0 438.9,80.6 440.1,81.7 441.3,82.4 442.6,83.8 444.1,84.6 445.6,85.4 447.0,86.8 448.4,87.1 449.8,87.9 451.2,88.4 452.6,89.6 454.0,89.8 455.4,90.8 456.8,91.2 458.2,92.2 459.6,93.0 461.0,93.7 462.4,94.3 463.9,95.0 465.3,95.5 466.6,96.2 468.1,96.4 470.0,97.2 472.5,97.6 475.3,98.6 478.4,99.2 481.3,99.1 484.0,99.7 486.7,100.7 489.5,101.1 492.6,101.3 496.4,102.3 500.8,103.0 504.7,103.2 507.5,103.5" fill="none" stroke="#1a8a1a" stroke-width="1.3"/>
<polyline points="407.5,110.2 407.7,109.7 408.0,108.4 408.4,106.9 408.7,104.4 409.0,101.8 409.3,98.9 409.6,95.7 409.9,92.9 410.1,91.3 410.3,89.8 410.5,89.0 410.8,87.5 411.1,86.7 411.4,86.5 411.8,85.5 412.2,84.8 412.7,84.6 413.2,83.9 413.8,82.9 414.6,82.3 415.6,81.3 416.7,79.7 418.0,78.8 419.3,77.3 420.7,76.7 422.2,75.9 423.7,75.5 425.1,75.6 426.4,75.0 427.7,75.4 428.9,75.0 430.0,75.2 431.0,75.4 431.8,75.4 432.6,75.1 433.4,75.9 434.2,76.6 435.0,77.1 435.9,78.0 436.8,79.5 437.8,80.0 438.9,80.6 440.1,81.7 441.3,82.4 442.6,83.8 444.1,84.6 445.6,85.4 447.0,86.8 448.4,87.1 449.8,87.9 451.2,88.4 452.6,89.6 454.0,89.8 455.4,90.8 456.8,91.2 458.2,92.2 459.6,93.0 461.0,93.7 462.4,94.3 463.9,95.0 465.3,95.5 466.6,96.2 468.1,96.4 470.0,97.2 472.5,97.6 475.3,98.6 478.4,99.2 481.3,99.1 484.0,99.7 486.7,100.7 489.5,101.1 492.6,101.3 496.4,102.3 500.8,103.0 504.7,103.2 507.5,103.5" fill="none" stroke="#000" stroke-opacity="0.45" stroke-width="1.3" stroke-dasharray="1 2.2"/>
<polyline points="407.5,110.8 407.7,109.2 408.0,108.4 408.3,106.6 408.7,106.1 409.1,105.0 409.5,105.5 410.1,105.4 411.0,105.5 412.4,105.4 414.1,104.7 416.0,104.6 418.0,104.7 420.3,104.3 422.8,104.1 425.3,103.9 427.5,104.3 429.3,104.3 430.9,104.3 432.4,104.1 434.0,104.7 435.7,104.6 437.3,104.6 439.2,105.0 441.3,105.1 443.7,105.1 446.3,105.7 449.3,105.8 452.6,106.1 456.6,106.6 461.1,106.7 465.7,106.7 470.0,107.3 473.7,107.6 477.2,107.4 480.8,107.9 485.0,107.5 490.6,107.7 497.2,108.0 503.3,108.7 507.5,108.6" fill="none" stroke="#f20d12" stroke-width="1.4"/>
<polyline points="407.5,110.8 407.7,109.2 408.0,108.4 408.3,106.6 408.7,106.1 409.1,105.0 409.5,105.5 410.1,105.4 411.0,105.5 412.4,105.4 414.1,104.7 416.0,104.6 418.0,104.7 420.3,104.3 422.8,104.1 425.3,103.9 427.5,104.3 429.3,104.3 430.9,104.3 432.4,104.1 434.0,104.7 435.7,104.6 437.3,104.6 439.2,105.0 441.3,105.1 443.7,105.1 446.3,105.7 449.3,105.8 452.6,106.1 456.6,106.6 461.1,106.7 465.7,106.7 470.0,107.3 473.7,107.6 477.2,107.4 480.8,107.9 485.0,107.5 490.6,107.7 497.2,108.0 503.3,108.7 507.5,108.6" fill="none" stroke="#000" stroke-opacity="0.45" stroke-width="1.3" stroke-dasharray="1 2.2"/>
<line x1="408" y1="108.9" x2="508" y2="108.9" stroke="#f20d12" stroke-width="1" stroke-dasharray="3 2.5"/>
<line x1="43.5" y1="150" x2="43.5" y2="246.9" stroke="#8a8a8a" stroke-width="1" />
<line x1="43.5" y1="246.9" x2="141.5" y2="246.9" stroke="#8a8a8a" stroke-width="1" />
<line x1="41.0" y1="246.9" x2="43.5" y2="246.9" stroke="#8a8a8a" stroke-width="1" />
<text x="36.2" y="252.0" font-size="10" text-anchor="end" font-weight="normal" fill="#1a1a1a" >0</text>
<line x1="41.0" y1="209.95" x2="43.5" y2="209.95" stroke="#8a8a8a" stroke-width="1" />
<text x="36.2" y="214.04999999999998" font-size="10" text-anchor="end" font-weight="normal" fill="#1a1a1a" >50</text>
<line x1="41.0" y1="173.0" x2="43.5" y2="173.0" stroke="#8a8a8a" stroke-width="1" />
<text x="36.2" y="176.9" font-size="10" text-anchor="end" font-weight="normal" fill="#1a1a1a" >100</text>
<line x1="53.6" y1="173.0" x2="53.6" y2="187.78" stroke="#7a7a7a" stroke-width="1" />
<rect x="49.6" y="187.8" width="8" height="59.1" fill="#ff0505"/>
<text x="54.2" y="259.0" font-size="10" text-anchor="middle" font-weight="normal" fill="#1a1a1a" >P</text>
<line x1="73.3" y1="195.17000000000002" x2="73.3" y2="201.821" stroke="#7a7a7a" stroke-width="1" />
<rect x="69.3" y="201.8" width="8" height="45.1" fill="#5e0064"/>
<text x="72.6" y="259.0" font-size="10" text-anchor="middle" font-weight="normal" fill="#1a1a1a" >M</text>
<line x1="92.6" y1="155.264" x2="92.6" y2="171.522" stroke="#7a7a7a" stroke-width="1" />
<rect x="88.6" y="171.5" width="8" height="75.4" fill="#00008e"/>
<text x="91.4" y="259.0" font-size="10" text-anchor="middle" font-weight="normal" fill="#1a1a1a" >F</text>
<rect x="108.1" y="179.7" width="8" height="67.2" fill="#0a800a"/>
<text x="112" y="259.0" font-size="10" text-anchor="middle" font-weight="normal" fill="#1a1a1a" >B</text>
<line x1="132.0" y1="163.393" x2="132.0" y2="173.0" stroke="#7a7a7a" stroke-width="1" />
<rect x="128.2" y="173.0" width="7.6" height="73.9" fill="#000"/>
<text x="133" y="259.0" font-size="10" text-anchor="middle" font-weight="normal" fill="#1a1a1a" >C</text>
<text x="0" y="0" font-size="10.3" text-anchor="middle" font-weight="normal" fill="#1a1a1a" transform="translate(14.5,201.0) rotate(-90)">% of control</text>
<line x1="224.7" y1="151.5" x2="224.7" y2="246.8" stroke="#8a8a8a" stroke-width="1" />
<line x1="224.7" y1="246.8" x2="320" y2="246.8" stroke="#8a8a8a" stroke-width="1" />
<line x1="222.2" y1="246.8" x2="224.7" y2="246.8" stroke="#8a8a8a" stroke-width="1" />
<text x="219.5" y="252.6" font-size="10" text-anchor="end" font-weight="normal" fill="#1a1a1a" >0</text>
<line x1="222.2" y1="207.35000000000002" x2="224.7" y2="207.35000000000002" stroke="#8a8a8a" stroke-width="1" />
<text x="219.5" y="212.15" font-size="10" text-anchor="end" font-weight="normal" fill="#1a1a1a" >50</text>
<line x1="222.2" y1="167.9" x2="224.7" y2="167.9" stroke="#8a8a8a" stroke-width="1" />
<text x="219.5" y="171.5" font-size="10" text-anchor="end" font-weight="normal" fill="#1a1a1a" >100</text>
<line x1="248.54999999999998" y1="167.9" x2="248.54999999999998" y2="187.625" stroke="#7a7a7a" stroke-width="1" />
<rect x="239.2" y="187.6" width="18.7" height="59.2" fill="#ff0505"/>
<text x="246" y="259.6" font-size="10" text-anchor="middle" font-weight="normal" fill="#1a1a1a" >P</text>
<line x1="295.55" y1="155.276" x2="295.55" y2="167.9" stroke="#7a7a7a" stroke-width="1" />
<rect x="286.1" y="167.9" width="18.9" height="78.9" fill="#000"/>
<text x="295.5" y="259.6" font-size="10" text-anchor="middle" font-weight="normal" fill="#1a1a1a" >C</text>
<text x="0" y="0" font-size="10.3" text-anchor="middle" font-weight="normal" fill="#1a1a1a" transform="translate(194.9,206.2) rotate(-90)">% of control</text>
<line x1="408.4" y1="146.3" x2="408.4" y2="246.2" stroke="#8a8a8a" stroke-width="1" />
<line x1="408.4" y1="246.2" x2="510" y2="246.2" stroke="#8a8a8a" stroke-width="1" />
<line x1="405.9" y1="246.2" x2="408.4" y2="246.2" stroke="#8a8a8a" stroke-width="1" />
<text x="400.5" y="248.6" font-size="10" text-anchor="end" font-weight="normal" fill="#1a1a1a" >0</text>
<line x1="405.9" y1="207.25" x2="408.4" y2="207.25" stroke="#8a8a8a" stroke-width="1" />
<text x="400.5" y="212.35" font-size="10" text-anchor="end" font-weight="normal" fill="#1a1a1a" >50</text>
<line x1="405.9" y1="168.3" x2="408.4" y2="168.3" stroke="#8a8a8a" stroke-width="1" />
<text x="400.5" y="172.20000000000002" font-size="10" text-anchor="end" font-weight="normal" fill="#1a1a1a" >100</text>
<line x1="417.4" y1="239.189" x2="417.4" y2="241.52599999999998" stroke="#7a7a7a" stroke-width="1" />
<rect x="412.9" y="241.5" width="9" height="4.7" fill="#ff0505"/>
<text x="418" y="259.6" font-size="10" text-anchor="middle" font-weight="normal" fill="#1a1a1a" >P</text>
<text x="417.4" y="240.8" font-size="15" text-anchor="middle" font-weight="normal" fill="#3a3a3a" >*</text>
<line x1="437.90000000000003" y1="205.692" x2="437.90000000000003" y2="207.25" stroke="#7a7a7a" stroke-width="1" />
<rect x="433.6" y="207.2" width="8.6" height="38.9" fill="#5e0064"/>
<text x="437.8" y="259.6" font-size="10" text-anchor="middle" font-weight="normal" fill="#1a1a1a" >M</text>
<text x="437.90000000000003" y="206.4" font-size="15" text-anchor="middle" font-weight="normal" fill="#3a3a3a" >*</text>
<line x1="458.7" y1="205.692" x2="458.7" y2="212.703" stroke="#7a7a7a" stroke-width="1" />
<rect x="454.4" y="212.7" width="8.6" height="33.5" fill="#00008e"/>
<text x="458" y="259.6" font-size="10" text-anchor="middle" font-weight="normal" fill="#1a1a1a" >F</text>
<text x="458.7" y="209.2" font-size="15" text-anchor="middle" font-weight="normal" fill="#3a3a3a" >*</text>
<line x1="479.25" y1="212.703" x2="479.25" y2="213.482" stroke="#7a7a7a" stroke-width="1" />
<rect x="475.2" y="213.5" width="8.1" height="32.7" fill="#0a800a"/>
<text x="478.4" y="259.6" font-size="10" text-anchor="middle" font-weight="normal" fill="#1a1a1a" >B</text>
<text x="479.25" y="215.4" font-size="15" text-anchor="middle" font-weight="normal" fill="#3a3a3a" >*</text>
<line x1="499.5" y1="152.72000000000003" x2="499.5" y2="165.18400000000003" stroke="#7a7a7a" stroke-width="1" />
<rect x="495.4" y="165.2" width="8.2" height="81.0" fill="#000"/>
<text x="498.7" y="259.6" font-size="10" text-anchor="middle" font-weight="normal" fill="#1a1a1a" >C</text>
<text x="0" y="0" font-size="10.3" text-anchor="middle" font-weight="normal" fill="#1a1a1a" transform="translate(383.6,207.8) rotate(-90)">% of control</text>
<line x1="42.5" y1="279.8" x2="42.5" y2="412.8" stroke="#8a8a8a" stroke-width="1" />
<line x1="42.5" y1="412.8" x2="178" y2="412.8" stroke="#8a8a8a" stroke-width="1" />
<line x1="40.0" y1="298.4" x2="42.5" y2="298.4" stroke="#8a8a8a" stroke-width="1" />
<text x="37.5" y="302.0" font-size="10" text-anchor="end" font-weight="normal" fill="#1a1a1a" >30</text>
<line x1="40.0" y1="354.2" x2="42.5" y2="354.2" stroke="#8a8a8a" stroke-width="1" />
<text x="37.5" y="357.8" font-size="10" text-anchor="end" font-weight="normal" fill="#1a1a1a" >15</text>
<line x1="40.0" y1="412.8" x2="42.5" y2="412.8" stroke="#8a8a8a" stroke-width="1" />
<text x="37.5" y="416.40000000000003" font-size="10" text-anchor="end" font-weight="normal" fill="#1a1a1a" >0</text>
<line x1="42.5" y1="412.8" x2="42.5" y2="415.3" stroke="#8a8a8a" stroke-width="1" />
<line x1="84" y1="412.8" x2="84" y2="415.3" stroke="#8a8a8a" stroke-width="1" />
<line x1="125.3" y1="412.8" x2="125.3" y2="415.3" stroke="#8a8a8a" stroke-width="1" />
<line x1="167.3" y1="412.8" x2="167.3" y2="415.3" stroke="#8a8a8a" stroke-width="1" />
<text x="45.7" y="428.7" font-size="10" text-anchor="middle" font-weight="normal" fill="#1a1a1a" >0</text>
<text x="88.4" y="428.7" font-size="10" text-anchor="middle" font-weight="normal" fill="#1a1a1a" >20</text>
<text x="129.7" y="428.7" font-size="10" text-anchor="middle" font-weight="normal" fill="#1a1a1a" >40</text>
<text x="171.7" y="428.7" font-size="10" text-anchor="middle" font-weight="normal" fill="#1a1a1a" >60</text>
<text x="108.5" y="440.3" font-size="9.8" text-anchor="middle" font-weight="normal" fill="#1a1a1a" >Time (min)</text>
<text transform="translate(16.8,355.3) rotate(-90)" font-size="10.4" text-anchor="middle" fill="#1a1a1a">10<tspan font-size="6" dy="-4.3">7</tspan><tspan dy="4.3"> CFU</tspan></text>
<line x1="84" y1="299" x2="84" y2="351.5" stroke="#404040" stroke-width="1.2" stroke-dasharray="5 1.3"/>
<line x1="84" y1="365.6" x2="84" y2="375.3" stroke="#404040" stroke-width="1.2" stroke-dasharray="5 1.3"/>
<line x1="167" y1="315" x2="167" y2="374.5" stroke="#404040" stroke-width="1.2" stroke-dasharray="5 1.3"/>
<polyline points="42.5,351.4 84.0,316.0 167.0,334.4" fill="none" stroke="#1c1c9c" stroke-width="1.3" />
<rect x="41.2" y="350.09999999999997" width="2.6" height="2.6" fill="#1c1c9c"/>
<rect x="82.7" y="314.7" width="2.6" height="2.6" fill="#1c1c9c"/>
<rect x="165.7" y="333.09999999999997" width="2.6" height="2.6" fill="#1c1c9c"/>
<polyline points="42.5,351.4 84.0,332.4 167.0,351.5" fill="none" stroke="#000" stroke-width="1.3" stroke-dasharray="3.5 2"/>
<rect x="41.2" y="350.09999999999997" width="2.6" height="2.6" fill="#000"/>
<rect x="82.7" y="331.09999999999997" width="2.6" height="2.6" fill="#000"/>
<rect x="165.7" y="350.2" width="2.6" height="2.6" fill="#000"/>
<polyline points="42.5,351.4 84.0,339.2 167.0,352.8" fill="none" stroke="#f20d12" stroke-width="1.3" stroke-dasharray="3.5 2"/>
<rect x="41.2" y="350.09999999999997" width="2.6" height="2.6" fill="#f20d12"/>
<rect x="82.7" y="337.9" width="2.6" height="2.6" fill="#f20d12"/>
<rect x="165.7" y="351.5" width="2.6" height="2.6" fill="#f20d12"/>
<polyline points="42.5,351.4 84.0,343.0 167.0,340.1" fill="none" stroke="#f20d12" stroke-width="1.3" />
<rect x="41.2" y="350.09999999999997" width="2.6" height="2.6" fill="#f20d12"/>
<rect x="82.7" y="341.7" width="2.6" height="2.6" fill="#f20d12"/>
<rect x="165.7" y="338.8" width="2.6" height="2.6" fill="#f20d12"/>
<polyline points="42.5,351.4 84.0,370.8 167.0,367.0" fill="none" stroke="#000" stroke-width="1.3" />
<rect x="41.2" y="350.09999999999997" width="2.6" height="2.6" fill="#000"/>
<rect x="82.7" y="369.5" width="2.6" height="2.6" fill="#000"/>
<rect x="165.7" y="365.7" width="2.6" height="2.6" fill="#000"/>
<text x="84.3" y="392.5" font-size="16" text-anchor="middle" font-weight="normal" fill="#3a3a3a" >*</text>
<text x="167.5" y="392" font-size="16" text-anchor="middle" font-weight="normal" fill="#3a3a3a" >*</text>
<defs><filter id="bl" x="-20%" y="-100%" width="140%" height="300%"><feGaussianBlur stdDeviation="0.75 0.6"/></filter><filter id="bl2" x="-30%" y="-30%" width="160%" height="160%"><feGaussianBlur stdDeviation="1.3 1.6"/></filter><linearGradient id="sg" x1="0" y1="0" x2="0" y2="1"><stop offset="0" stop-color="#ececec"/><stop offset="0.5" stop-color="#f2f2f2"/><stop offset="1" stop-color="#eaeaea"/></linearGradient><linearGradient id="sg3" x1="0" y1="0" x2="0" y2="1"><stop offset="0" stop-color="#e2e2e2"/><stop offset="0.5" stop-color="#dcdcdc"/><stop offset="1" stop-color="#d8d8d8"/></linearGradient><linearGradient id="sg2" x1="0" y1="0" x2="0" y2="1"><stop offset="0" stop-color="#dadada"/><stop offset="0.5" stop-color="#e2e2e2"/><stop offset="1" stop-color="#d6d6d6"/></linearGradient></defs>
<text x="251.5" y="302.2" font-size="10.5" text-anchor="middle" font-weight="normal" fill="#1a1a1a" >P</text>
<text x="271" y="302.2" font-size="10.5" text-anchor="middle" font-weight="normal" fill="#1a1a1a" >M</text>
<text x="289" y="302.2" font-size="10.5" text-anchor="middle" font-weight="normal" fill="#1a1a1a" >F</text>
<text x="308" y="302.2" font-size="10.5" text-anchor="middle" font-weight="normal" fill="#1a1a1a" >B</text>
<text x="326" y="302.2" font-size="10.5" text-anchor="middle" font-weight="normal" fill="#1a1a1a" >C1</text>
<text x="344.4" y="302.2" font-size="10.5" text-anchor="middle" font-weight="normal" fill="#1a1a1a" >C2</text>
<text x="362.7" y="302.2" font-size="10.5" text-anchor="middle" font-weight="normal" fill="#1a1a1a" >C3</text>
<rect x="239.6" y="304.4" width="134" height="9.0" fill="url(#sg)" stroke="#989898" stroke-width="0.9"/>
<rect x="239.6" y="315.1" width="134" height="8.8" fill="url(#sg)" stroke="#989898" stroke-width="0.9"/>
<rect x="239.6" y="326.2" width="134" height="10.4" fill="url(#sg2)" stroke="#989898" stroke-width="0.9"/>
<rect x="239.6" y="337.8" width="134" height="9.2" fill="url(#sg2)" stroke="#989898" stroke-width="0.9"/>
<rect x="239.6" y="348.0" width="134" height="27.4" fill="url(#sg3)" stroke="#989898" stroke-width="0.9"/>
<rect x="239.6" y="376.8" width="134" height="9.8" fill="url(#sg2)" stroke="#989898" stroke-width="0.9"/>
<rect x="239.6" y="388.3" width="134" height="7.9" fill="url(#sg)" stroke="#989898" stroke-width="0.9"/>
<rect x="243.7" y="308.0" width="15.6" height="2.6" rx="1.6" fill="rgb(95,95,95)" filter="url(#bl)"/>
<rect x="263.2" y="308.0" width="15.6" height="2.6" rx="1.6" fill="rgb(50,50,50)" filter="url(#bl)"/>
<rect x="281.2" y="308.0" width="15.6" height="2.6" rx="1.6" fill="rgb(140,140,140)" filter="url(#bl)"/>
<rect x="300.2" y="308.0" width="15.6" height="2.6" rx="1.6" fill="rgb(62,62,62)" filter="url(#bl)"/>
<rect x="318.2" y="308.0" width="15.6" height="2.6" rx="1.6" fill="rgb(62,62,62)" filter="url(#bl)"/>
<rect x="336.6" y="308.0" width="15.6" height="2.6" rx="1.6" fill="rgb(60,60,60)" filter="url(#bl)"/>
<rect x="354.9" y="308.0" width="15.6" height="2.6" rx="1.6" fill="rgb(62,62,62)" filter="url(#bl)"/>
<rect x="243.7" y="318.2" width="15.6" height="3.3" rx="1.6" fill="rgb(58,58,58)" filter="url(#bl)"/>
<rect x="263.2" y="318.2" width="15.6" height="3.3" rx="1.6" fill="rgb(58,58,58)" filter="url(#bl)"/>
<rect x="281.2" y="318.2" width="15.6" height="3.3" rx="1.6" fill="rgb(58,58,58)" filter="url(#bl)"/>
<rect x="300.2" y="318.2" width="15.6" height="3.3" rx="1.6" fill="rgb(58,58,58)" filter="url(#bl)"/>
<rect x="318.2" y="318.2" width="15.6" height="3.3" rx="1.6" fill="rgb(58,58,58)" filter="url(#bl)"/>
<rect x="336.6" y="318.2" width="15.6" height="3.3" rx="1.6" fill="rgb(58,58,58)" filter="url(#bl)"/>
<rect x="354.9" y="318.2" width="15.6" height="3.3" rx="1.6" fill="rgb(55,55,55)" filter="url(#bl)"/>
<rect x="243.7" y="328.2" width="15.6" height="2.2" rx="1.6" fill="rgb(70,70,70)" filter="url(#bl)"/>
<rect x="263.2" y="328.8" width="15.6" height="2.2" rx="1.6" fill="rgb(72,72,72)" filter="url(#bl)"/>
<rect x="281.2" y="329.3" width="15.6" height="2.2" rx="1.6" fill="rgb(75,75,75)" filter="url(#bl)"/>
<rect x="300.2" y="329.8" width="15.6" height="2.2" rx="1.6" fill="rgb(80,80,80)" filter="url(#bl)"/>
<rect x="318.2" y="330.4" width="15.6" height="2.2" rx="1.6" fill="rgb(95,95,95)" filter="url(#bl)"/>
<rect x="336.6" y="330.9" width="15.6" height="2.2" rx="1.6" fill="rgb(75,75,75)" filter="url(#bl)"/>
<rect x="354.9" y="331.5" width="15.6" height="2.2" rx="1.6" fill="rgb(85,85,85)" filter="url(#bl)"/>
<rect x="243.7" y="342.2" width="15.6" height="2.6" rx="1.6" fill="rgb(72,72,72)" filter="url(#bl)"/>
<rect x="263.2" y="342.2" width="15.6" height="2.6" rx="1.6" fill="rgb(80,80,80)" filter="url(#bl)"/>
<rect x="281.2" y="342.2" width="15.6" height="2.6" rx="1.6" fill="rgb(72,72,72)" filter="url(#bl)"/>
<rect x="300.2" y="342.2" width="15.6" height="2.6" rx="1.6" fill="rgb(68,68,68)" filter="url(#bl)"/>
<rect x="318.2" y="342.2" width="15.6" height="2.6" rx="1.6" fill="rgb(80,80,80)" filter="url(#bl)"/>
<rect x="336.6" y="342.2" width="15.6" height="2.6" rx="1.6" fill="rgb(62,62,62)" filter="url(#bl)"/>
<rect x="354.9" y="342.2" width="15.6" height="2.6" rx="1.6" fill="rgb(72,72,72)" filter="url(#bl)"/>
<rect x="243.7" y="380.6" width="15.6" height="3.2" rx="1.6" fill="rgb(55,55,55)" filter="url(#bl)"/>
<rect x="263.2" y="380.6" width="15.6" height="3.2" rx="1.6" fill="rgb(55,55,55)" filter="url(#bl)"/>
<rect x="281.2" y="380.6" width="15.6" height="3.2" rx="1.6" fill="rgb(55,55,55)" filter="url(#bl)"/>
<rect x="300.2" y="380.6" width="15.6" height="3.2" rx="1.6" fill="rgb(55,55,55)" filter="url(#bl)"/>
<rect x="318.2" y="380.6" width="15.6" height="3.2" rx="1.6" fill="rgb(55,55,55)" filter="url(#bl)"/>
<rect x="336.6" y="380.6" width="15.6" height="3.2" rx="1.6" fill="rgb(55,55,55)" filter="url(#bl)"/>
<rect x="354.9" y="380.6" width="15.6" height="3.2" rx="1.6" fill="rgb(45,45,45)" filter="url(#bl)"/>
<rect x="243.7" y="390.7" width="15.6" height="3.0" rx="1.6" fill="rgb(20,20,20)" filter="url(#bl)"/>
<rect x="263.2" y="390.7" width="15.6" height="3.0" rx="1.6" fill="rgb(20,20,20)" filter="url(#bl)"/>
<rect x="281.2" y="390.7" width="15.6" height="3.0" rx="1.6" fill="rgb(20,20,20)" filter="url(#bl)"/>
<rect x="300.2" y="390.7" width="15.6" height="3.0" rx="1.6" fill="rgb(20,20,20)" filter="url(#bl)"/>
<rect x="318.2" y="390.7" width="15.6" height="3.0" rx="1.6" fill="rgb(20,20,20)" filter="url(#bl)"/>
<rect x="336.6" y="390.7" width="15.6" height="3.0" rx="1.6" fill="rgb(20,20,20)" filter="url(#bl)"/>
<rect x="354.9" y="390.7" width="15.6" height="3.0" rx="1.6" fill="rgb(20,20,20)" filter="url(#bl)"/>
<defs><linearGradient id="gpg" x1="0" y1="0" x2="0" y2="1"><stop offset="0" stop-color="#585858"/><stop offset="0.25" stop-color="#484848"/><stop offset="0.55" stop-color="#5a5a5a"/><stop offset="0.8" stop-color="#7a7a7a"/><stop offset="1" stop-color="#a8a8a8"/></linearGradient></defs>
<rect x="242.6" y="351.8" width="17.8" height="21" rx="4" fill="url(#gpg)" filter="url(#bl2)"/>
<rect x="262.1" y="351.8" width="17.8" height="21" rx="4" fill="url(#gpg)" filter="url(#bl2)"/>
<rect x="280.1" y="351.8" width="17.8" height="21" rx="4" fill="url(#gpg)" filter="url(#bl2)"/>
<rect x="299.1" y="351.8" width="17.8" height="21" rx="4" fill="url(#gpg)" filter="url(#bl2)"/>
<rect x="317.1" y="351.8" width="17.8" height="21" rx="4" fill="url(#gpg)" filter="url(#bl2)"/>
<rect x="335.5" y="351.8" width="17.8" height="21" rx="4" fill="url(#gpg)" filter="url(#bl2)"/>
<rect x="353.8" y="351.8" width="17.8" height="21" rx="4" fill="url(#gpg)" filter="url(#bl2)"/>
<text x="211.1" y="312.6" font-size="10.2" fill="#1a1a1a">p40<tspan font-size="4.8" font-style="italic" dy="-4.6" fill="#444" style="stroke:none">phox</tspan></text>
<text x="208.6" y="325" font-size="10.2" fill="#1a1a1a">p67<tspan font-size="4.8" font-style="italic" dy="-4.6" fill="#444" style="stroke:none">phox</tspan></text>
<text x="208.6" y="333.9" font-size="10.2" fill="#1a1a1a">p47<tspan font-size="4.8" font-style="italic" dy="-4.6" fill="#444" style="stroke:none">phox</tspan></text>
<text x="208.6" y="346.2" font-size="10.4" text-anchor="start" font-weight="normal" fill="#1a1a1a" >Rac2</text>
<text x="201.4" y="368" font-size="10.2" fill="#1a1a1a">gp91<tspan font-size="4.8" font-style="italic" dy="-4.6" fill="#444" style="stroke:none">phox</tspan></text>
<text x="207.2" y="386.1" font-size="10.2" fill="#1a1a1a">p22<tspan font-size="4.8" font-style="italic" dy="-4.6" fill="#444" style="stroke:none">phox</tspan></text>
<text x="200" y="397.4" font-size="10.3" text-anchor="start" font-weight="normal" fill="#1a1a1a" >GAPDH</text>
<rect x="409.6" y="294.2" width="8.1" height="8.5" fill="#000"/>
<text x="419.5" y="302.3" font-size="10" fill="#1a1a1a">p40<tspan font-size="5" font-style="italic" dy="-4.5" fill="#444" style="stroke:none">phox</tspan></text>
<rect x="455.2" y="294.2" width="7.7" height="8.5" fill="#c4c4c4"/>
<text x="464.8" y="302.3" font-size="10" fill="#1a1a1a">p67<tspan font-size="5" font-style="italic" dy="-4.5" fill="#444" style="stroke:none">phox</tspan></text>
<line x1="401.3" y1="313.5" x2="401.3" y2="399.8" stroke="#777" stroke-width="1" />
<line x1="401.3" y1="399.8" x2="507" y2="399.8" stroke="#777" stroke-width="1" />
<line x1="398.8" y1="313.5" x2="401.3" y2="313.5" stroke="#777" stroke-width="1" />
<line x1="398.8" y1="330.5" x2="401.3" y2="330.5" stroke="#777" stroke-width="1" />
<line x1="398.8" y1="347.3" x2="401.3" y2="347.3" stroke="#777" stroke-width="1" />
<line x1="398.8" y1="364.8" x2="401.3" y2="364.8" stroke="#777" stroke-width="1" />
<line x1="398.8" y1="382.5" x2="401.3" y2="382.5" stroke="#777" stroke-width="1" />
<line x1="401.3" y1="399.8" x2="401.3" y2="402.3" stroke="#777" stroke-width="1" />
<line x1="445.5" y1="399.8" x2="445.5" y2="402.3" stroke="#777" stroke-width="1" />
<line x1="489.7" y1="399.8" x2="489.7" y2="402.3" stroke="#777" stroke-width="1" />
<rect x="401.3" y="316.7" width="44.2" height="5.0" fill="#000"/>
<rect x="401.3" y="322.15" width="92.8" height="4.8" fill="#d8d8d8" stroke="#333" stroke-width="0.8"/>
<text x="395" y="325.4" font-size="11" text-anchor="middle" font-weight="normal" fill="#1a1a1a" >P</text>
<rect x="401.3" y="334.4" width="83.1" height="5.0" fill="#000"/>
<rect x="401.3" y="339.85" width="96.4" height="4.8" fill="#d8d8d8" stroke="#333" stroke-width="0.8"/>
<text x="395" y="343" font-size="11" text-anchor="middle" font-weight="normal" fill="#1a1a1a" >M</text>
<rect x="401.3" y="352.0" width="49.5" height="5.0" fill="#000"/>
<rect x="401.3" y="357.45" width="88.4" height="4.8" fill="#d8d8d8" stroke="#333" stroke-width="0.8"/>
<text x="395" y="360.8" font-size="11" text-anchor="middle" font-weight="normal" fill="#1a1a1a" >F</text>
<rect x="401.3" y="369.4" width="84.0" height="5.0" fill="#000"/>
<rect x="401.3" y="374.85" width="102.5" height="4.8" fill="#d8d8d8" stroke="#333" stroke-width="0.8"/>
<text x="395" y="377.9" font-size="11" text-anchor="middle" font-weight="normal" fill="#1a1a1a" >B</text>
<rect x="401.3" y="386.9" width="88.4" height="5.0" fill="#000"/>
<rect x="401.3" y="392.35" width="88.4" height="4.8" fill="#d8d8d8" stroke="#333" stroke-width="0.8"/>
<text x="395" y="395.4" font-size="11" text-anchor="middle" font-weight="normal" fill="#1a1a1a" >C</text>
<text x="401.4" y="411.9" font-size="10" text-anchor="middle" font-weight="normal" fill="#1a1a1a" >0</text>
<text x="446.3" y="411.9" font-size="10" text-anchor="middle" font-weight="normal" fill="#1a1a1a" >50</text>
<text x="489.4" y="411.9" font-size="10" text-anchor="middle" font-weight="normal" fill="#1a1a1a" >100</text>
<text x="446.3" y="429.2" font-size="10" text-anchor="middle" font-weight="normal" fill="#1a1a1a" >% of control</text>
</svg>
</body></html>
